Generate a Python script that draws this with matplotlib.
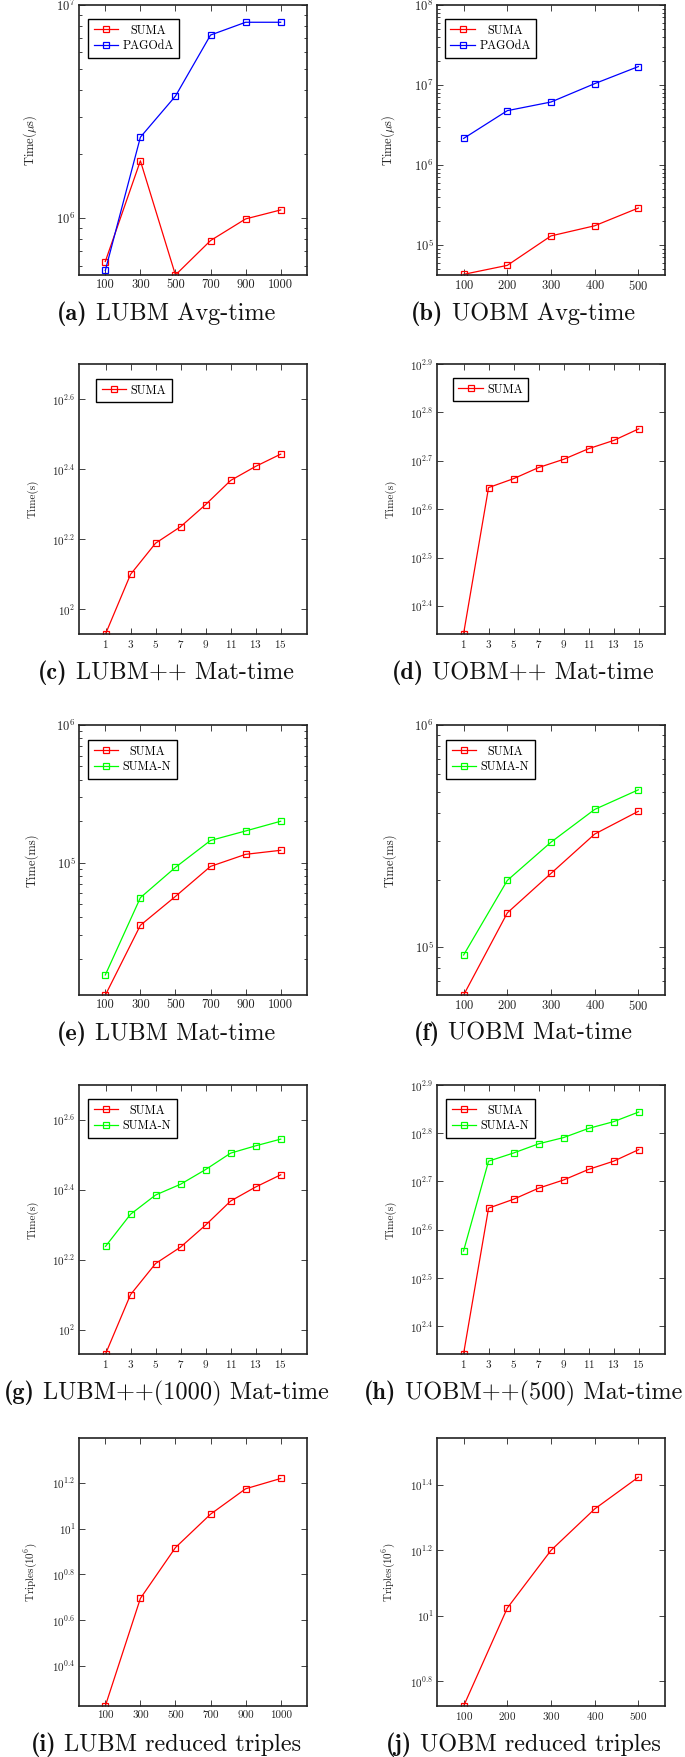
import matplotlib
matplotlib.use('Agg')
import matplotlib.pyplot as plt
from matplotlib.ticker import NullLocator, NullFormatter

plt.rcParams['font.family'] = 'cmr10'
plt.rcParams['mathtext.fontset'] = 'cm'
plt.rcParams['axes.formatter.use_mathtext'] = True

# x values
lubm_sizes = ['100', '300', '500', '700', '900', '1000']
uobm_sizes = [100, 200, 300, 400, 500]
steps = [1, 3, 5, 7, 9, 11, 13, 15]

# (a), (b) average time, microseconds
lubm_avg_suma = [6.27e5, 1.86e6, 5.42e5, 7.86e5, 9.93e5, 1.094e6]
lubm_avg_pagoda = [5.69e5, 2.40e6, 3.74e6, 7.23e6, 8.3e6, 8.3e6]
uobm_avg_suma = [4.3e4, 5.57e4, 1.30e5, 1.74e5, 2.90e5]
uobm_avg_pagoda = [2.15e6, 4.78e6, 6.13e6, 1.04e7, 1.70e7]

# (c), (d), (g), (h) materialisation time on ++ datasets, seconds
lubmpp_suma = [85.1, 125.9, 154.5, 172.2, 199.1, 233.3, 255.9, 277.3]
lubmpp_suma_n = [173.0, 213.8, 242.7, 260.6, 287.1, 319.9, 335.7, 350.8]
uobmpp_suma = [219.8, 441.1, 460.3, 485.3, 504.7, 530.9, 552.1, 583.4]
uobmpp_suma_n = [359.4, 552.1, 574.1, 599.8, 618.0, 645.7, 666.8, 698.2]

# (e), (f) materialisation time, ms
lubm_mat_suma = [1.09e4, 3.51e4, 5.69e4, 9.4e4, 1.15e5, 1.23e5]
lubm_mat_suma_n = [1.53e4, 5.57e4, 9.25e4, 1.45e5, 1.70e5, 2.0e5]
uobm_mat_suma = [6.05e4, 1.42e5, 2.14e5, 3.22e5, 4.08e5]
uobm_mat_suma_n = [9.17e4, 1.99e5, 2.96e5, 4.16e5, 5.1e5]

# (i), (j) reduced triples, 10^6
lubm_triples = [1.675, 4.95, 8.26, 11.56, 14.93, 16.56]
uobm_triples = [5.31, 10.57, 15.85, 21.2, 26.5]

W, H = 685, 1757
fig = plt.figure(figsize=(W / 100, H / 100), dpi=100)
renderer = fig.canvas.get_renderer()

RED = '#ff0000'
BLUE = '#0000ff'
GREEN = '#00ff00'
LEFT_COL, RIGHT_COL = 79, 437
AX_W = 228
CAP = 17.5
LEG = 8.7


def make_axes(left, top, bottom):
    return fig.add_axes([left / W, 1 - bottom / H, AX_W / W, (bottom - top) / H])


def draw(ax, x, series, ylim, xlim, ylabel, fs, legend_at=None, xlabels=None):
    for y, color, name in series:
        ax.plot(x, y, color=color, lw=0.9, marker='s', ms=4.8, mfc='none',
                mew=0.9, label=name)
    ax.set_yscale('log')
    ax.set_ylim(*ylim)
    ax.set_xlim(*xlim)
    ax.set_xticks(x)
    if xlabels is not None:
        ax.set_xticklabels(xlabels)
    ax.yaxis.set_minor_formatter(NullFormatter())
    ax.tick_params(which='both', direction='in', top=True, right=True,
                   labelsize=fs, width=0.6, colors='#222222')
    ax.tick_params(which='major', length=4)
    ax.tick_params(which='minor', length=2.3)
    ax.tick_params(axis='x', pad=3)
    ax.tick_params(axis='y', pad=2.5)
    for sp in ax.spines.values():
        sp.set_linewidth(1.2)
        sp.set_color('#222222')
    ax.set_ylabel(ylabel, fontsize=fs, color='#222222')
    ax.yaxis.set_label_coords(-40 / AX_W, 0.5)
    if legend_at is not None:
        leg = ax.legend(loc='upper left', bbox_to_anchor=legend_at, fontsize=LEG,
                        fancybox=False, edgecolor='black', framealpha=1,
                        borderaxespad=0, handlelength=2.05, handletextpad=0.35,
                        borderpad=0.45, labelspacing=0.3)
        leg.get_frame().set_linewidth(1.0)
        # centre the entries like pgfplots does
        texts = leg.get_texts()
        widths = [t.get_window_extent(renderer).width for t in texts]
        for t, w in zip(texts, widths):
            t.set_x((max(widths) - w) / 2)


def frac_ticks(ax, exps):
    labels = []
    for e in exps:
        if float(e).is_integer():
            labels.append(r'$10^{%d}$' % e)
        else:
            labels.append(r'$10^{%g}$' % e)
    ax.set_yticks([10.0 ** e for e in exps], labels=labels)
    ax.yaxis.set_minor_locator(NullLocator())


def caption(cx, bottom, tag, text):
    y = 1 - (bottom + 45) / H
    t1 = fig.text(0, y, tag, family='cmb10', fontsize=CAP, va='baseline', color='#111111')
    t2 = fig.text(0, y, text, fontsize=CAP, va='baseline', color='#111111')
    w1 = t1.get_window_extent(renderer).width
    w2 = t2.get_window_extent(renderer).width
    gap = CAP * 0.333 * 100 / 72
    x0 = cx - (w1 + gap + w2) / 2
    t1.set_x(x0 / W)
    t2.set_x((x0 + w1 + gap) / W)


idx6 = list(range(len(lubm_sizes)))
cat_lim = (-0.75, 5.75)
uobm_lim = (39, 561)
step_lim = (-1.12, 17.1)
BIG, SMALL = 9, 8

# row 1
ax = make_axes(LEFT_COL, 5, 275)
draw(ax, idx6, [(lubm_avg_suma, RED, 'SUMA'), (lubm_avg_pagoda, BLUE, 'PAGOdA')],
     (5.42e5, 1e7), cat_lim, r'Time($\mu$s)', BIG, (0.04, 0.948), lubm_sizes)
caption(166, 275, '(a)', 'LUBM Avg-time')

ax = make_axes(RIGHT_COL, 5, 275)
draw(ax, uobm_sizes, [(uobm_avg_suma, RED, 'SUMA'), (uobm_avg_pagoda, BLUE, 'PAGOdA')],
     (4.22e4, 1e8), uobm_lim, r'Time($\mu$s)', BIG, (0.035, 0.948))
caption(523, 275, '(b)', 'UOBM Avg-time')

# row 2
ax = make_axes(LEFT_COL, 364, 634)
draw(ax, steps, [(lubmpp_suma, RED, 'SUMA')],
     (85.1, 501.2), step_lim, 'Time(s)', SMALL, (0.075, 0.944))
frac_ticks(ax, [2, 2.2, 2.4, 2.6])
caption(166, 634, '(c)', 'LUBM++ Mat-time')

ax = make_axes(RIGHT_COL, 364, 634)
draw(ax, steps, [(uobmpp_suma, RED, 'SUMA')],
     (219.8, 794.3), step_lim, 'Time(s)', SMALL, (0.07, 0.948))
frac_ticks(ax, [2.4, 2.5, 2.6, 2.7, 2.8, 2.9])
caption(523, 634, '(d)', 'UOBM++ Mat-time')

# row 3
ax = make_axes(LEFT_COL, 725, 995)
draw(ax, idx6, [(lubm_mat_suma, RED, 'SUMA'), (lubm_mat_suma_n, GREEN, 'SUMA-N')],
     (1.094e4, 1e6), cat_lim, 'Time(ms)', BIG, (0.04, 0.944), lubm_sizes)
caption(166, 995, '(e)', 'LUBM Mat-time')

ax = make_axes(RIGHT_COL, 725, 995)
draw(ax, uobm_sizes, [(uobm_mat_suma, RED, 'SUMA'), (uobm_mat_suma_n, GREEN, 'SUMA-N')],
     (6.05e4, 1e6), uobm_lim, 'Time(ms)', BIG, (0.04, 0.944))
caption(523, 995, '(f)', 'UOBM Mat-time')

# row 4
ax = make_axes(LEFT_COL, 1085, 1354)
draw(ax, steps, [(lubmpp_suma, RED, 'SUMA'), (lubmpp_suma_n, GREEN, 'SUMA-N')],
     (85.1, 501.2), step_lim, 'Time(s)', SMALL, (0.04, 0.948))
frac_ticks(ax, [2, 2.2, 2.4, 2.6])
caption(166, 1354, '(g)', 'LUBM++(1000) Mat-time')

ax = make_axes(RIGHT_COL, 1085, 1354)
draw(ax, steps, [(uobmpp_suma, RED, 'SUMA'), (uobmpp_suma_n, GREEN, 'SUMA-N')],
     (219.8, 794.3), step_lim, 'Time(s)', SMALL, (0.04, 0.948))
frac_ticks(ax, [2.4, 2.5, 2.6, 2.7, 2.8, 2.9])
caption(523, 1354, '(h)', 'UOBM++(500) Mat-time')

# row 5
ax = make_axes(LEFT_COL, 1438, 1706)
draw(ax, idx6, [(lubm_triples, RED, 'SUMA')],
     (1.675, 24.9), cat_lim, r'Triples($10^6$)', SMALL, None, lubm_sizes)
frac_ticks(ax, [0.4, 0.6, 0.8, 1, 1.2])
caption(166, 1706, '(i)', 'LUBM reduced triples')

ax = make_axes(RIGHT_COL, 1438, 1706)
draw(ax, uobm_sizes, [(uobm_triples, RED, 'SUMA')],
     (5.31, 34.9), uobm_lim, r'Triples($10^6$)', SMALL)
frac_ticks(ax, [0.8, 1, 1.2, 1.4])
caption(523, 1706, '(j)', 'UOBM reduced triples')

fig.savefig('out.png', dpi=100)
